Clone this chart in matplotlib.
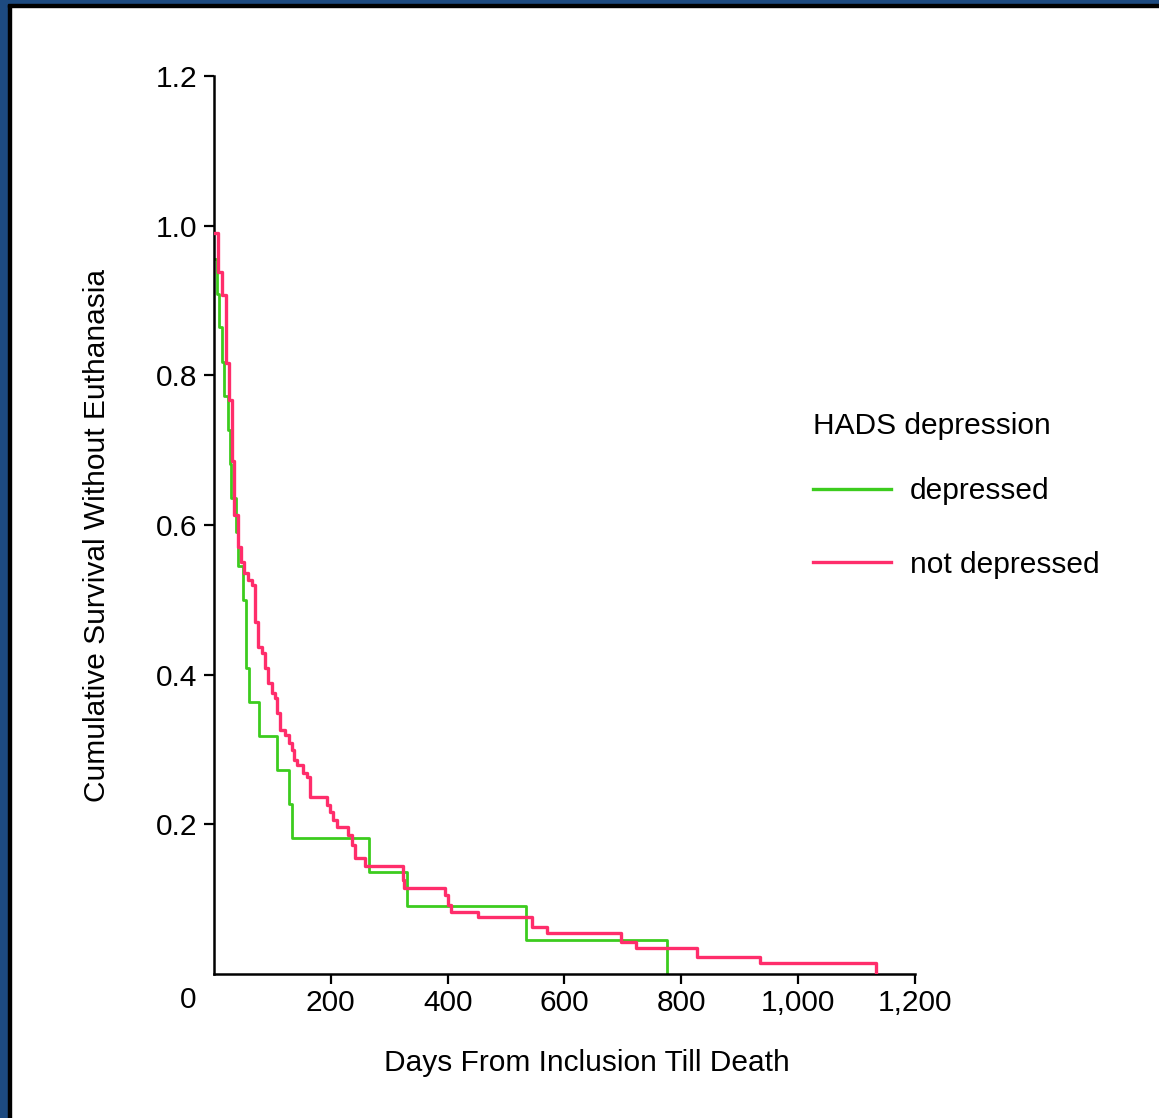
import numpy as np
import matplotlib
matplotlib.use('Agg')
import matplotlib.pyplot as plt
from matplotlib.patches import Rectangle

plt.rcParams['font.family'] = ['Liberation Sans', 'DejaVu Sans']

# Kaplan-Meier steps: (day of drop, survival after drop)
dep_days = [0, 2, 5, 8, 14, 18, 24, 27, 30, 37, 42, 49, 55, 60, 77, 108, 128, 133, 265, 331, 534, 775]
dep_surv = [0.955, 0.955, 0.909, 0.864, 0.818, 0.773, 0.727, 0.682, 0.636, 0.591, 0.545, 0.5,
            0.409, 0.364, 0.318, 0.273, 0.227, 0.182, 0.136, 0.091, 0.045, 0.0]

nodep_days = [0, 7, 13, 20, 26, 31, 34, 41, 46, 51, 58, 65, 70, 75, 82, 87, 92, 99, 104, 108,
              113, 121, 128, 133, 137, 143, 152, 159, 164, 193, 198, 203, 210, 229, 237, 242,
              259, 323, 326, 396, 401, 406, 452, 544, 570, 696, 722, 826, 935, 1133]
nodep_surv = [0.99, 0.938, 0.908, 0.817, 0.767, 0.686, 0.614, 0.571, 0.550, 0.536, 0.527, 0.520,
              0.471, 0.437, 0.429, 0.409, 0.389, 0.376, 0.369, 0.349, 0.326, 0.320, 0.309, 0.300,
              0.286, 0.279, 0.269, 0.263, 0.237, 0.226, 0.217, 0.206, 0.197, 0.186, 0.173, 0.155,
              0.144, 0.126, 0.115, 0.106, 0.092, 0.083, 0.076, 0.063, 0.055, 0.043, 0.035, 0.023,
              0.015, 0.0]

x_ticks = [200, 400, 600, 800, 1000, 1200]
x_labels = ['200', '400', '600', '800', '1,000', '1,200']
y_ticks = [0.2, 0.4, 0.6, 0.8, 1.0, 1.2]
y_labels = ['0.2', '0.4', '0.6', '0.8', '1.0', '1.2']

green = '#3ccc1e'
red = '#ff2d6b'
fs = 21.5

fig = plt.figure(figsize=(11.59, 11.18), dpi=100)
ax = fig.add_axes([0.1846, 0.1288, 0.6049, 0.8032])

ax.step(dep_days, dep_surv, where='post', color=green, lw=2.0, label='depressed', zorder=2)
ax.step(nodep_days, nodep_surv, where='post', color=red, lw=2.4, label='not depressed', zorder=3)

ax.set_xlim(0, 1200)
ax.set_ylim(0, 1.2)
ax.set_xticks(x_ticks)
ax.set_xticklabels(x_labels)
ax.set_yticks(y_ticks)
ax.set_yticklabels(y_labels)
ax.tick_params(axis='both', direction='out', length=7, width=1.6, labelsize=fs, color='black')
ax.tick_params(axis='x', pad=4)
ax.tick_params(axis='y', pad=5)
for s in ['top', 'right']:
    ax.spines[s].set_visible(False)
for s in ['left', 'bottom']:
    ax.spines[s].set_linewidth(1.8)
ax.text(-44, -0.035, '0', fontsize=fs, ha='center', va='center', clip_on=False)

fig.text(587 / 1159, 1 - 1063 / 1118, 'Days From Inclusion Till Death', fontsize=fs,
         ha='center', va='center')
fig.text(97 / 1159, 1 - 535 / 1118, 'Cumulative Survival Without Euthanasia', fontsize=fs,
         ha='center', va='center', rotation=90)

# legend: title as text, entries from the plotted lines
fig.text(813 / 1159, 1 - 426 / 1118, 'HADS depression', fontsize=fs, ha='left', va='center')
leg = ax.legend(loc='upper left', frameon=False,
                bbox_to_anchor=(813 / 1159, 1 - 477 / 1118), bbox_transform=fig.transFigure,
                fontsize=fs, handlelength=2.6, handletextpad=0.64,
                labelspacing=1.53, borderaxespad=0, borderpad=0)
for line in leg.get_lines():
    line.set_linewidth(2.4)

# dark frame on the top and left edge
fig.patches.append(Rectangle((0, 0), 8 / 1159, 1, transform=fig.transFigure, color='#1d4a80', zorder=0))
fig.patches.append(Rectangle((8 / 1159, 0), 3 / 1159, 1 - 4 / 1118, transform=fig.transFigure, color='black', zorder=0))
fig.patches.append(Rectangle((0, 1 - 4 / 1118), 1, 4 / 1118, transform=fig.transFigure, color='#1d4a80', zorder=0))
fig.patches.append(Rectangle((8 / 1159, 1 - 7 / 1118), 1, 3 / 1118, transform=fig.transFigure, color='black', zorder=0))

plt.savefig('out.png', dpi=100)
